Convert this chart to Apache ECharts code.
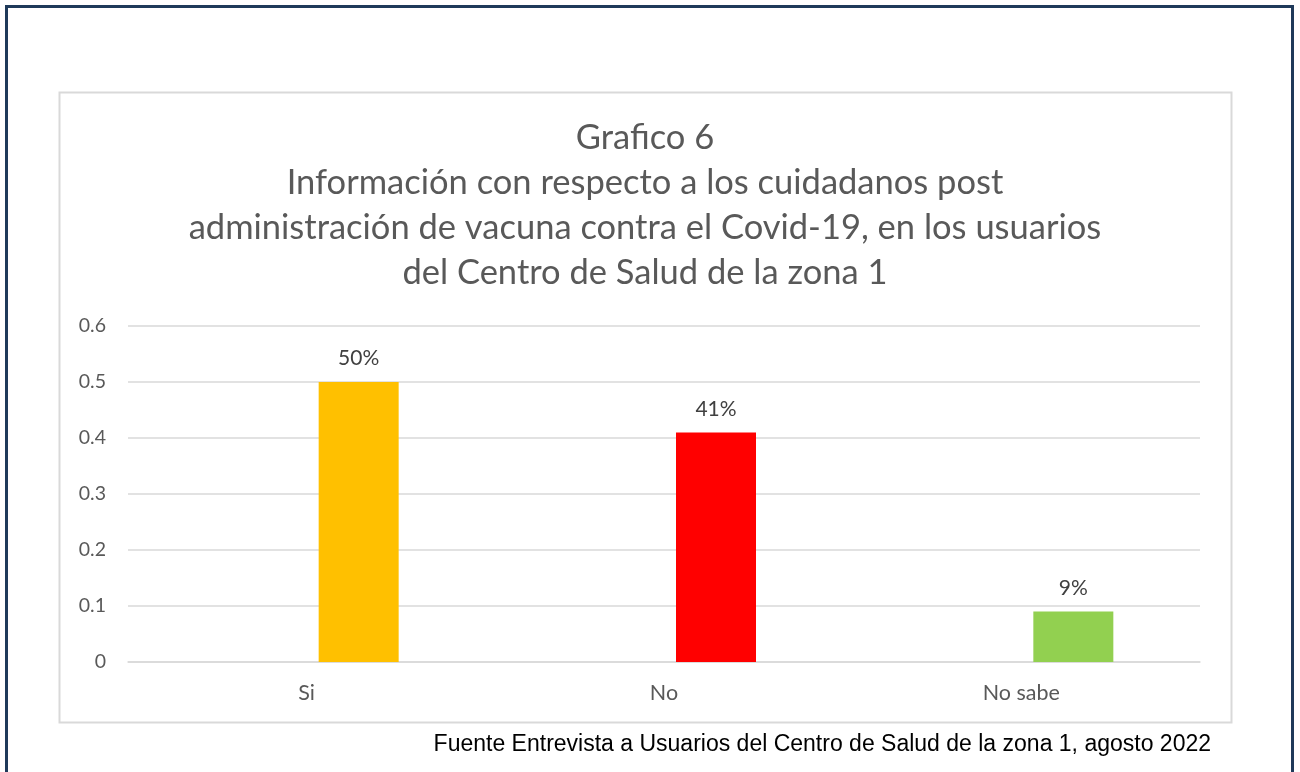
<!DOCTYPE html>
<html>
<head>
<meta charset="utf-8">
<script src="https://cdn.jsdelivr.net/npm/echarts@6/dist/echarts.min.js"></script>
<style>
  html, body { margin: 0; padding: 0; background: #fff; }
  #chart { width: 1300px; height: 772px; }
</style>
</head>
<body>
<div id="chart"></div>
<script>
// == Data ====================================================================
const categories = ['Si', 'No', 'No sabe']
const blankSeries = [null, null, null]
const shares = [0.5, 0.41, 0.09]
const barColors = ['#ffc000', '#ff0000', '#92d050']
const yTicks = { min: 0, max: 0.6, interval: 0.1 }

const titleLines = [
  'Grafico 6',
  'Información con respecto a los cuidadanos post',
  'administración de vacuna contra el Covid-19, en los usuarios',
  'del Centro de Salud de la zona 1'
]
const sourceNote = 'Fuente Entrevista a Usuarios del Centro de Salud de la zona 1, agosto 2022'

// == Chart ===================================================================
const font = 'Lato'
const chart = echarts.init(document.getElementById('chart'))

chart.setOption({
  animation: false,
  title: {
    text: titleLines.join('\n'),
    left: 640,
    top: 110,
    textAlign: 'center',
    textStyle: {
      fontFamily: font,
      fontSize: 34.5,
      fontWeight: 'normal',
      lineHeight: 45,
      color: '#595959'
    }
  },
  grid: { left: 128, right: 100, top: 326, bottom: 110 },
  xAxis: {
    type: 'category',
    data: categories,
    axisTick: { show: false },
    axisLine: { lineStyle: { color: '#d9d9d9', width: 1.5 } },
    axisLabel: { margin: 20, fontFamily: font, fontSize: 21.5, color: '#595959' }
  },
  yAxis: {
    type: 'value',
    min: yTicks.min,
    max: yTicks.max,
    interval: yTicks.interval,
    axisLine: { show: false },
    axisTick: { show: false },
    splitLine: { lineStyle: { color: '#d9d9d9', width: 1.5 } },
    axisLabel: {
      margin: 22,
      fontFamily: font,
      fontSize: 19.5,
      color: '#595959',
      formatter: v => (v === 0 ? '0' : v.toFixed(1))
    }
  },
  series: [
    {
      type: 'bar',
      data: blankSeries,
      barWidth: 80,
      barGap: '30%'
    },
    {
      type: 'bar',
      data: shares.map((v, i) => ({ value: v, itemStyle: { color: barColors[i] } })),
      barWidth: 80,
      barGap: '30%',
      label: {
        show: true,
        position: 'top',
        distance: 13,
        fontFamily: font,
        fontSize: 21,
        color: '#404040',
        formatter: p => Math.round(p.value * 100) + '%'
      }
    }
  ],
  graphic: [
    {
      type: 'rect',
      shape: { x: 6.5, y: 6.5, width: 1286, height: 790 },
      style: { fill: null, stroke: '#1f3a5a', lineWidth: 3 },
      silent: true
    },
    {
      type: 'rect',
      shape: { x: 59.5, y: 92.5, width: 1172, height: 630 },
      style: { fill: null, stroke: '#d9d9d9', lineWidth: 2 },
      silent: true
    },
    {
      type: 'text',
      x: 1211,
      y: 745,
      style: {
        text: sourceNote,
        align: 'right',
        verticalAlign: 'middle',
        fontFamily: 'Liberation Sans',
        fontSize: 23,
        fill: '#000'
      }
    }
  ]
})
</script>
</body>
</html>
